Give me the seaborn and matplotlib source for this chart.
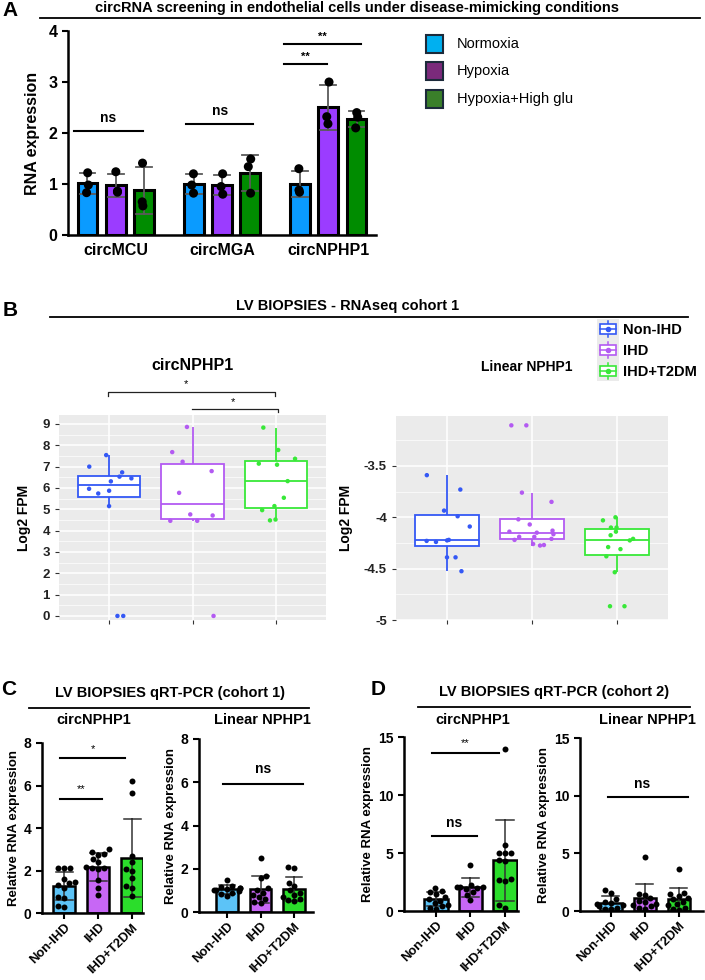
import numpy as np
import pandas as pd
import matplotlib
matplotlib.use("Agg")
import matplotlib.pyplot as plt
import seaborn as sns
from matplotlib.patches import Rectangle

W, H = 705, 980

# ---------- A: circRNA screening (3 replicates per bar)
A_GENES = ["circMCU", "circMGA", "circNPHP1"]
A_CONDS = ["Normoxia", "Hypoxia", "Hypoxia+High glu"]
A_NORMOXIA = [[1.22, 0.98, 0.83], [1.20, 0.98, 0.82], [1.30, 0.84, 0.88]]
A_HYPOXIA = [[1.24, 0.86, 0.84], [1.20, 0.95, 0.80], [3.00, 2.18, 2.32]]
A_HIGHGLU = [[1.41, 0.57, 0.65], [1.49, 1.34, 0.82], [2.40, 2.31, 2.10]]
A_BAR_COLORS = ["#0A9BFF", "#9B3CFF", "#008C00"]
A_LEGEND_COLORS = ["#00B0F0", "#7B2A7B", "#3A7F2A"]

# ---------- B: RNAseq cohort 1 (log2 FPM)
B_GROUPS = ["Non-IHD", "IHD", "IHD+T2DM"]
B_COLORS = ["#3458F5", "#B35AF2", "#38E838"]
B_CIRC_NONIHD = [7.0, 6.73, 7.54, 6.53, 6.45, 6.31, 5.87, 5.96, 5.74, 5.15, 0.0, 0.0]
B_CIRC_IHD = [8.86, 7.68, 7.23, 6.79, 5.77, 4.76, 4.71, 4.46, 4.46, 0.0]
B_CIRC_T2DM = [8.83, 7.78, 7.37, 7.14, 7.09, 6.32, 5.54, 5.15, 4.96, 4.52, 4.48]
B_LIN_NONIHD = [-3.59, -3.73, -3.935, -3.99, -4.09, -4.22, -4.225, -4.23, -4.24,
                -4.39, -4.39, -4.525]
B_LIN_IHD = [-3.105, -3.105, -3.76, -3.85, -4.02, -4.07, -4.13, -4.14, -4.15, -4.165,
             -4.19, -4.19, -4.21, -4.22, -4.26, -4.27, -4.275]
B_LIN_T2DM = [-4.0, -4.03, -4.10, -4.10, -4.14, -4.175, -4.21, -4.225, -4.29, -4.31,
              -4.38, -4.535, -4.866, -4.866]
B_LIN_TICKS = [-5, -4.5, -4, -3.5]
B_LIN_TICKLABELS = ["-5", "-4.5", "-4", "-3.5"]

# ---------- C / D: qRT-PCR
Q_GROUPS = ["Non-IHD", "IHD", "IHD+T2DM"]
Q_COLORS = ["#5CC3F7", "#C767F5", "#2BDD2B"]
C_CIRC_NONIHD = [2.13, 2.13, 2.13, 1.6, 1.45, 1.2, 1.3, 0.75, 0.7, 0.35, 0.3, 1.4]
C_CIRC_IHD = [3.0, 2.85, 2.8, 2.75, 2.55, 2.4, 2.15, 2.1, 2.1, 2.05, 1.55, 1.2, 0.85]
C_CIRC_T2DM = [6.2, 5.65, 2.7, 2.4, 2.05, 2.0, 1.65, 1.25, 1.2, 0.8]
C_LIN_NONIHD = [1.5, 1.2, 1.15, 1.1, 1.1, 1.05, 1.0, 1.0, 0.95, 0.9, 0.85, 0.75]
C_LIN_IHD = [2.5, 1.65, 1.55, 1.1, 1.0, 0.9, 0.8, 0.7, 0.6, 0.45, 0.4]
C_LIN_T2DM = [2.1, 2.05, 1.35, 1.2, 1.0, 0.9, 0.8, 0.7, 0.6, 0.55, 0.5]
D_CIRC_NONIHD = [2.0, 1.7, 1.6, 1.5, 1.2, 1.0, 0.9, 0.7, 0.5, 0.4, 0.3, 0.2]
D_CIRC_IHD = [4.0, 2.2, 2.1, 2.1, 2.05, 2.0, 1.9, 1.6, 1.4, 0.95]
D_CIRC_T2DM = [14.0, 5.7, 5.0, 5.0, 5.0, 4.4, 4.3, 2.8, 2.7, 2.6, 0.5, 0.3]
D_LIN_NONIHD = [1.85, 1.6, 1.0, 0.8, 0.7, 0.6, 0.5, 0.4, 0.3, 0.2, 0.15]
D_LIN_IHD = [4.65, 1.5, 1.35, 1.1, 0.9, 0.8, 0.6, 0.5, 0.4, 0.3, 0.2]
D_LIN_T2DM = [3.6, 1.6, 1.45, 1.3, 1.15, 1.0, 0.8, 0.6, 0.5, 0.3, 0.2, 0.1]

plt.rcParams["font.family"] = ["Liberation Sans", "DejaVu Sans"]


def px_axes(fig, x0, y0, x1, y1):
    return fig.add_axes([x0 / W, 1 - y1 / H, (x1 - x0) / W, (y1 - y0) / H])


def long_df(groups, series):
    return pd.DataFrame({
        "group": np.repeat(groups, [len(s) for s in series]),
        "value": np.concatenate(series),
    })


def prism_style(ax, ticksize=10):
    for s in ["top", "right"]:
        ax.spines[s].set_visible(False)
    for s in ["left", "bottom"]:
        ax.spines[s].set_linewidth(1.8)
    ax.tick_params(direction="out", length=4, width=1.5, labelsize=ticksize)
    for lab in ax.get_yticklabels() + ax.get_xticklabels():
        lab.set_fontweight("bold")


def sig_line(ax, x0, x1, y, label, ty, tx=None, size=10, weight="bold"):
    ax.plot([x0, x1], [y, y], color="black", lw=1.5, clip_on=False)
    ax.text((x0 + x1) / 2 if tx is None else tx, ty, label, ha="center", va="center",
            fontsize=size, fontweight=weight)


def qpcr_panel(ax, series, ylim, yticks, xlim, width, ylabel=True):
    df = long_df(Q_GROUPS, series)
    sns.barplot(data=df, x="group", y="value", hue="group", order=Q_GROUPS,
                hue_order=Q_GROUPS, palette=Q_COLORS, errorbar="sd", capsize=0.5,
                err_kws={"color": "#333333", "linewidth": 1.1}, edgecolor="black",
                linewidth=1.8, width=width, saturation=1, legend=False, ax=ax)
    sns.swarmplot(data=df, x="group", y="value", order=Q_GROUPS, color="black",
                  size=4.3, ax=ax)
    ax.set_ylim(*ylim)
    ax.set_yticks(yticks)
    ax.set_xlim(*xlim)
    ax.set_xlabel("")
    ax.set_ylabel("Relative RNA expression" if ylabel else "", fontsize=9.5,
                  fontweight="bold", labelpad=3)
    ax.set_xticks(range(3))
    ax.set_xticklabels(Q_GROUPS, rotation=45, ha="right", rotation_mode="anchor")
    prism_style(ax, ticksize=10)
    ax.tick_params(axis="x", labelsize=9.3, pad=2)


def ggplot_box(ax, series, ylim, yticks, minor, ticklabels=None):
    df = long_df(B_GROUPS, series)
    ax.set_facecolor("#EBEBEB")
    for g, col in zip(B_GROUPS, B_COLORS):
        sub = df[df["group"] == g]
        sns.boxplot(data=sub, x="group", y="value", order=B_GROUPS, color="white",
                    linecolor=col, linewidth=1.3, width=0.75, showcaps=False,
                    showfliers=False, whis=1.5, ax=ax)
    np.random.seed(7)
    sns.stripplot(data=df, x="group", y="value", hue="group", order=B_GROUPS,
                  hue_order=B_GROUPS, palette=B_COLORS, jitter=0.28, size=3.2,
                  linewidth=0, legend=False, ax=ax)
    ax.set_xlim(-0.6, 2.6)
    ax.set_ylim(*ylim)
    ax.set_yticks(yticks)
    ax.set_yticks(minor, minor=True)
    if ticklabels is not None:
        ax.set_yticklabels(ticklabels)
    ax.set_xticks(range(3))
    ax.set_xticklabels([])
    ax.set_xlabel("")
    ax.set_ylabel("Log2 FPM", fontsize=10, fontweight="bold", labelpad=8)
    ax.set_axisbelow(True)
    ax.grid(which="major", color="white", lw=1.1)
    ax.grid(which="minor", axis="y", color="white", lw=0.5)
    for s in ax.spines.values():
        s.set_visible(False)
    ax.tick_params(which="major", length=3, color="#333333", labelsize=9.5,
                   labelcolor="#222222")
    ax.tick_params(which="minor", length=0)
    for lab in ax.get_yticklabels():
        lab.set_fontweight("bold")


fig = plt.figure(figsize=(W / 100, H / 100), dpi=100)

# ---------------- Panel A
axA = px_axes(fig, 68, 31, 376, 235)
rows = []
for cond, cond_vals in zip(A_CONDS, [A_NORMOXIA, A_HYPOXIA, A_HIGHGLU]):
    for gene, vals in zip(A_GENES, cond_vals):
        for v in vals:
            rows.append({"gene": gene, "cond": cond, "value": v})
dfA = pd.DataFrame(rows)
sns.barplot(data=dfA, x="gene", y="value", hue="cond", order=A_GENES,
            hue_order=A_CONDS, palette=A_BAR_COLORS, errorbar="sd", capsize=0.45,
            err_kws={"color": "#5a5a5a", "linewidth": 1.3}, edgecolor="black",
            linewidth=2.2, gap=0.3, saturation=1, legend=False, ax=axA)
np.random.seed(3)
sns.stripplot(data=dfA, x="gene", y="value", hue="cond", order=A_GENES,
              hue_order=A_CONDS, palette=["black"] * 3, dodge=True, jitter=0.06,
              size=6.5, legend=False, ax=axA)
axA.set_ylim(0, 4)
axA.set_yticks([0, 1, 2, 3, 4])
axA.set_xlim(-0.45, 2.45)
axA.set_xlabel("")
axA.set_ylabel("RNA expression", fontsize=11.5, fontweight="bold", labelpad=6)
prism_style(axA, ticksize=11.5)
axA.tick_params(axis="x", length=0, pad=6)
sig_line(axA, -0.393, 0.258, 2.04, "ns", 2.30)
sig_line(axA, 0.663, 1.295, 2.18, "ns", 2.43)
sig_line(axA, 1.588, 1.984, 3.35, "**", 3.50, tx=1.786, size=8)
sig_line(axA, 1.588, 2.305, 3.74, "**", 3.89, tx=1.946, size=8)

# ---------------- Panel B
axB1 = px_axes(fig, 59, 415, 326, 620)
ggplot_box(axB1, [B_CIRC_NONIHD, B_CIRC_IHD, B_CIRC_T2DM], (-0.19, 9.42),
           list(range(10)), np.arange(0.5, 9.5, 1.0))
axB2 = px_axes(fig, 396, 416, 668, 620)
ggplot_box(axB2, [B_LIN_NONIHD, B_LIN_IHD, B_LIN_T2DM], (-5.0, -3.014),
           B_LIN_TICKS, [-4.75, -4.25, -3.75, -3.25], B_LIN_TICKLABELS)

# ---------------- Panel C
axC1 = px_axes(fig, 42, 743, 143, 913)
qpcr_panel(axC1, [C_CIRC_NONIHD, C_CIRC_IHD, C_CIRC_T2DM], (0, 8), [0, 2, 4, 6, 8],
           (-0.65, 2.32), 0.65)
sig_line(axC1, -0.12, 1.12, 5.36, "**", 5.85, size=8, weight="normal")
sig_line(axC1, -0.12, 1.79, 7.28, "*", 7.70, size=8, weight="normal")
axC2 = px_axes(fig, 199, 739, 313, 912)
qpcr_panel(axC2, [C_LIN_NONIHD, C_LIN_IHD, C_LIN_T2DM], (0, 8), [0, 2, 4, 6, 8],
           (-0.84, 2.57), 0.65)
sig_line(axC2, -0.12, 2.27, 5.93, "ns", 6.62)

# ---------------- Panel D
axD1 = px_axes(fig, 404, 737, 518, 911)
qpcr_panel(axD1, [D_CIRC_NONIHD, D_CIRC_IHD, D_CIRC_T2DM], (0, 15), [0, 5, 10, 15],
           (-0.93, 2.38), 0.68)
sig_line(axD1, -0.12, 1.19, 6.47, "ns", 7.6)
sig_line(axD1, -0.12, 1.83, 13.6, "**", 14.5, tx=0.84, size=8, weight="normal")
axD2 = px_axes(fig, 580, 738, 703, 911)
qpcr_panel(axD2, [D_LIN_NONIHD, D_LIN_IHD, D_LIN_T2DM], (0, 15), [0, 5, 10, 15],
           (-0.91, 2.71), 0.65)
sig_line(axD2, -0.09, 2.26, 9.9, "ns", 11.0, tx=0.91)

# ---------------- overlay: headers, panel letters, legends
ov = fig.add_axes([0, 0, 1, 1])
ov.set_xlim(0, W)
ov.set_ylim(H, 0)
ov.axis("off")
ov.patch.set_alpha(0)


def header(x, y, text, x0, x1, yl, size=10.5):
    ov.text(x, y, text, ha="center", va="center", fontsize=size, fontweight="bold")
    ov.plot([x0, x1], [yl, yl], color="black", lw=1.3)


for letter, (x, y) in zip("ABCD", [(10, 11), (10, 310), (9, 689), (378, 689)]):
    ov.text(x, y, letter, ha="center", va="center", fontsize=15, fontweight="bold")

header(357, 8, "circRNA screening in endothelial cells under disease-mimicking conditions",
       40, 700, 18, size=10.5)
for i, (lab, col) in enumerate(zip(A_CONDS, A_LEGEND_COLORS)):
    yc = 44 + i * 27.5
    ov.add_patch(Rectangle((426, yc - 9), 17, 18, fc=col, ec="#1c2a3a", lw=1.5))
    ov.text(457, yc, lab, va="center", fontsize=10.5)

header(348, 306, "LV BIOPSIES - RNAseq cohort 1", 50, 688, 317)
ov.text(192, 365, "circNPHP1", ha="center", va="center", fontsize=11.5, fontweight="bold")
ov.text(527, 367, "Linear NPHP1", ha="center", va="center", fontsize=10, fontweight="bold")
# significance brackets above the circNPHP1 box plot
ov.plot([108, 108, 275, 275], [396, 392, 392, 396], color="#222222", lw=0.9)
ov.text(186, 384, "*", ha="center", va="center", fontsize=8)
ov.plot([192, 278, 278], [409, 409, 412], color="#222222", lw=0.9)
ov.text(233, 402, "*", ha="center", va="center", fontsize=8)
# ggplot-like legend keys
ov.add_patch(Rectangle((597, 319), 22, 62, fc="#EBEBEB", ec="none"))
for i, (lab, col) in enumerate(zip(B_GROUPS, B_COLORS)):
    yc = 329 + i * 21
    ov.plot([608, 608], [yc - 8, yc + 8], color=col, lw=1.1)
    ov.add_patch(Rectangle((600, yc - 5), 16, 10, fc="white", ec=col, lw=1.2, zorder=3))
    ov.plot([600, 616], [yc, yc], color=col, lw=1.1, zorder=4)
    ov.plot([608], [yc], "o", color=col, ms=3, zorder=5)
    ov.text(623, yc + 1, lab, va="center", fontsize=10.5, fontweight="bold")

header(170, 693, "LV BIOPSIES qRT-PCR (cohort 1)", 29, 309, 708)
ov.text(94, 720, "circNPHP1", ha="center", va="center", fontsize=10.5, fontweight="bold")
ov.text(262, 720, "Linear NPHP1", ha="center", va="center", fontsize=10.5, fontweight="bold")
header(554, 692, "LV BIOPSIES qRT-PCR (cohort 2)", 418, 690, 707)
ov.text(473, 720, "circNPHP1", ha="center", va="center", fontsize=10.5, fontweight="bold")
ov.text(647, 720, "Linear NPHP1", ha="center", va="center", fontsize=10.5, fontweight="bold")

fig.savefig("out.png", dpi=100)
